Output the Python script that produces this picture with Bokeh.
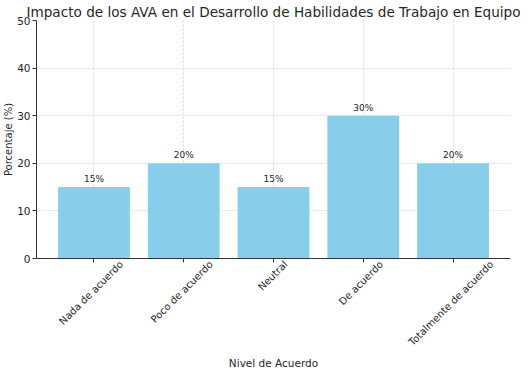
from bokeh.plotting import figure
from bokeh.models import (ColumnDataSource, FixedTicker, Range1d, Title, LabelSet,
                          LinearAxis, CustomJSTickFormatter)
from bokeh.core.properties import value
from bokeh.embed import file_html
from bokeh.resources import INLINE
import math

categories = ["Nada de acuerdo", "Poco de acuerdo", "Neutral", "De acuerdo", "Totalmente de acuerdo"]
values = [15, 20, 15, 30, 20]
value_labels = ["15%", "20%", "15%", "30%", "20%"]
y_ticks = [0, 10, 20, 30, 40, 50]

xs = list(range(len(categories)))
FRAME_W = 474
X0, X1 = -0.64, 4.64
px_per_unit = FRAME_W / (X1 - X0)
# rotated (45 deg) labels are anchored at their end by Bokeh; shift anchor so the
# label's bounding box is centred under the tick (matplotlib ha="center")
char_w, line_h = 5.3, 12.0
label_ticks = [i + ((len(c) * char_w + line_h) / (2 * math.sqrt(2)) - 5) / px_per_unit
               for i, c in zip(xs, categories)]

src = ColumnDataSource(dict(x=xs, top=values, lab=value_labels,
                            ly=[v + 0.6 for v in values]))

p = figure(output_backend="svg", toolbar_location=None,
           x_range=Range1d(X0, X1), y_range=Range1d(0, 50),
           frame_width=FRAME_W, frame_height=238,
           min_border_left=0, min_border_right=10, min_border_top=3, min_border_bottom=0)
p.title = Title(text="Impacto de los AVA en el Desarrollo de Habilidades de Trabajo en Equipo",
                align="center", text_font="DejaVu Sans", text_font_size="13.6px",
                text_font_style="normal", text_color="#262626", offset=0, standoff=2)
p.outline_line_color = None
p.background_fill_color = "white"
p.border_fill_color = "white"

p.vbar(x="x", top="top", width=0.8, source=src, fill_color="#87CEEB", line_color=None)
p.add_layout(LabelSet(x="x", y="ly", text="lab", source=src, text_align="center",
                      text_baseline="bottom", text_font_size=value("9px"),
                      text_font=value("DejaVu Sans"), text_color="#262626"))

for ax in (p.xaxis[0], p.yaxis[0]):
    ax.axis_line_color = "#333333"
    ax.axis_line_width = 1
    ax.major_tick_line_color = "#333333"
    ax.major_tick_in = 0
    ax.major_tick_out = 4
    ax.minor_tick_line_color = None
    ax.major_label_text_font = "DejaVu Sans"
    ax.major_label_text_font_size = "10.5px"
    ax.major_label_text_color = "#262626"
    ax.axis_label_text_font = "DejaVu Sans"
    ax.axis_label_text_font_size = "10px"
    ax.axis_label_text_font_style = "normal"
    ax.axis_label_text_color = "#262626"

p.xaxis.ticker = FixedTicker(ticks=xs)
p.xaxis.major_label_text_font_size = "1px"
p.xaxis.major_label_text_color = None
p.xaxis.major_label_standoff = 0

lab_axis = LinearAxis(ticker=FixedTicker(ticks=label_ticks),
                      formatter=CustomJSTickFormatter(args=dict(labels=categories),
                                                      code="return labels[Math.floor(tick + 0.001)];"),
                      major_label_orientation=math.pi / 4,
                      axis_line_color=None, major_tick_line_color=None,
                      minor_tick_line_color=None, major_label_standoff=0,
                      major_tick_out=0, major_tick_in=0,
                      major_label_text_font="DejaVu Sans", major_label_text_font_size="10px",
                      major_label_text_color="#262626",
                      axis_label="Nivel de Acuerdo", axis_label_standoff=2,
                      axis_label_text_font="DejaVu Sans", axis_label_text_font_size="10.5px",
                      axis_label_text_font_style="normal", axis_label_text_color="#262626")
p.add_layout(lab_axis, "below")

p.yaxis.ticker = FixedTicker(ticks=y_ticks)
p.yaxis.axis_label = "Porcentaje (%)"
p.yaxis.major_label_standoff = 2
p.yaxis.axis_label_standoff = 0

for g in (p.xgrid[0], p.ygrid[0]):
    g.grid_line_color = "#cccccc"
    g.grid_line_dash = "2 2"
    g.grid_line_width = 0.8
p.xgrid.ticker = FixedTicker(ticks=xs)
p.ygrid.ticker = FixedTicker(ticks=y_ticks)

open("out.html", "w").write(file_html(p, INLINE))
